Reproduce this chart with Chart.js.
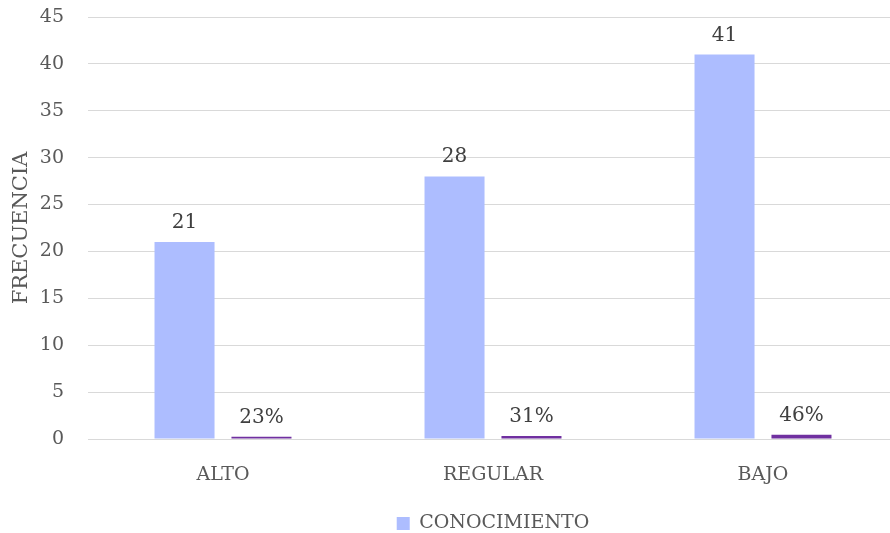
<!DOCTYPE html>
<html>
<head>
<meta charset="utf-8">
<script src="https://cdn.jsdelivr.net/npm/chart.js@4/dist/chart.umd.min.js"></script>
<style>
  html, body { margin: 0; padding: 0; background: #fff; overflow: hidden; }
  #wrap { width: 898px; height: 533px; }
</style>
</head>
<body>
<div id="wrap"><canvas id="grafico"></canvas></div>
<script>
const categorias = ["ALTO", "REGULAR", "BAJO"]
const frecuencias = [21, 28, 41]
const porcentajes = [0.23, 0.31, 0.46]
const etiquetasPorcentaje = ["23%", "31%", "46%"]
const ticksY = [0, 5, 10, 15, 20, 25, 30, 35, 40, 45]

const fuente = "'DejaVu Serif', serif"

// dibuja los numeros encima de cada barra
const etiquetas = {
  id: "etiquetas",
  afterDatasetsDraw(chart) {
    const ctx = chart.ctx
    ctx.save()
    ctx.font = "20px " + fuente
    ctx.fillStyle = "#404040"
    ctx.textAlign = "center"
    ctx.textBaseline = "alphabetic"
    chart.data.datasets.forEach((ds, i) => {
      chart.getDatasetMeta(i).data.forEach((bar, j) => {
        let texto = i == 0 ? String(ds.data[j]) : etiquetasPorcentaje[j]
        ctx.fillText(texto, bar.x, bar.y - 14)
      })
    })
    ctx.restore()
  }
}

new Chart(document.getElementById("grafico"), {
  type: "bar",
  data: {
    labels: categorias,
    datasets: [{
      label: "CONOCIMIENTO",
      data: frecuencias,
      backgroundColor: "rgb(173, 189, 255)"
    }, {
      label: "PORCENTAJE",
      data: porcentajes,
      backgroundColor: "rgb(112, 48, 160)"
    }]
  },
  options: {
    responsive: true,
    maintainAspectRatio: false,
    animation: false,
    categoryPercentage: 0.57,
    barPercentage: 0.78,
    layout: { padding: { top: 0, left: 0, right: 0, bottom: -10 } },
    plugins: {
      tooltip: { enabled: false },
      legend: {
        position: "bottom",
        fullSize: false,
        labels: {
          boxWidth: 13,
          boxHeight: 13,
          padding: 2,
          color: "#595959",
          font: { family: fuente, size: 19 },
          filter: item => item.datasetIndex == 0
        }
      }
    },
    scales: {
      x: {
        afterFit: axis => { axis.height = 73 },
        grid: { display: false, drawTicks: false },
        border: { display: true, color: "#d9d9d9", width: 1 },
        ticks: { color: "#595959", font: { family: fuente, size: 19 }, padding: 25 }
      },
      y: {
        min: 0,
        max: 45,
        afterBuildTicks: axis => { axis.ticks = ticksY.map(v => ({ value: v })) },
        afterFit: axis => {
          axis.width = 88
          axis.paddingTop = 17
          axis.paddingBottom = 0
        },
        grid: { color: "#d9d9d9", drawTicks: false },
        border: { display: false },
        ticks: { color: "#595959", font: { family: fuente, size: 19 }, padding: 24 },
        title: {
          display: true,
          text: "FRECUENCIA",
          color: "#595959",
          font: { family: fuente, size: 21 },
          padding: { top: 9, bottom: 0 }
        }
      }
    }
  },
  plugins: [etiquetas]
})
</script>
</body>
</html>
